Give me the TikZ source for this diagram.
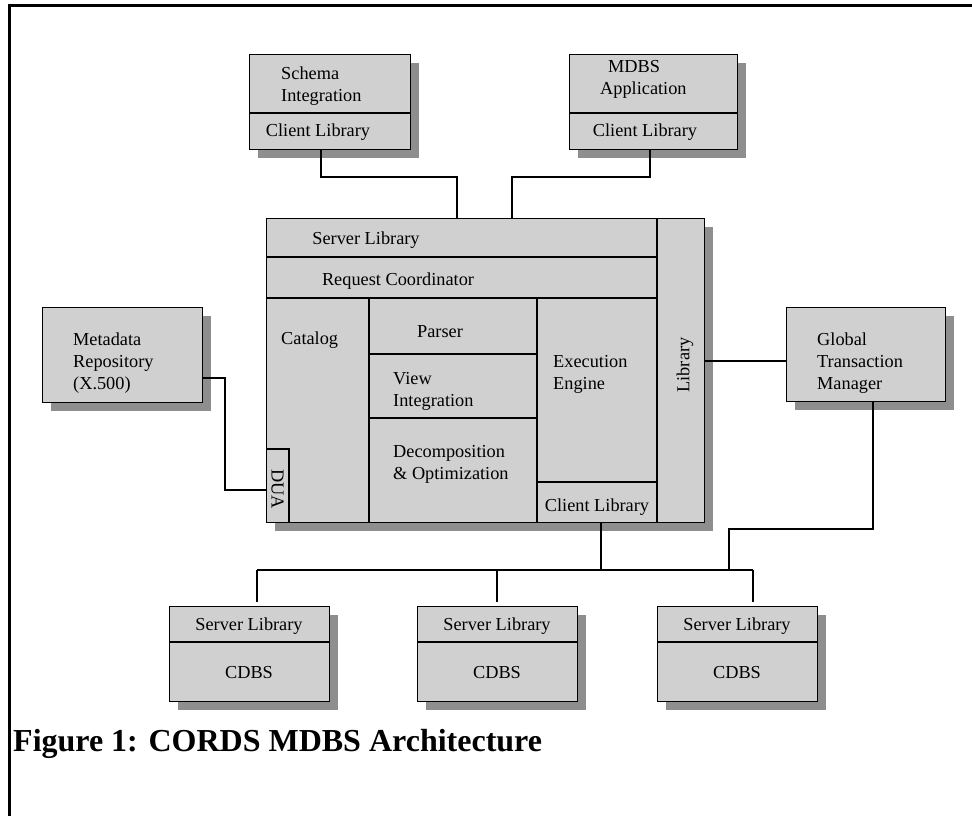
\documentclass[tikz,border=0pt]{standalone}
\usepackage{fontspec}
\setmainfont{Liberation Serif}
\usetikzlibrary{shadows}
\definecolor{boxgray}{HTML}{D0D0D0}
\definecolor{shadegray}{HTML}{8E8E8E}
\begin{document}
\begin{tikzpicture}[x=1pt,y=-1pt,
  box/.style={draw=black, line width=1.3pt, fill=boxgray, inner sep=0pt, anchor=north west,
    drop shadow={shadow xshift=8pt, shadow yshift=-8pt, fill=shadegray, opacity=1}},
  lbl/.style={font=\fontsize{18.3}{22}\selectfont, inner sep=0pt, align=left},
  div/.style={line width=1.3pt},
  wire/.style={line width=1.1pt},
  figcap/.style={font=\bfseries\fontsize{32}{38}\selectfont, inner sep=0pt, anchor=base west}]
\useasboundingbox (0,0) rectangle (972,816);
\draw[line width=3pt] (9,816) -- (9,6) -- (972,6);

% top boxes
\node[box, minimum width=161pt, minimum height=95pt] (schema) at (249,54) {};
\draw[div] (249,113) -- (410,113);
\node[lbl, anchor=west] (schematxt) at (281,86.5) {Schema\\Integration};
\node[lbl] (schemacl) at (318,132) {Client Library};

\node[box, minimum width=168pt, minimum height=95pt] (mdbs) at (569,54) {};
\draw[div] (569,113) -- (737,113);
\node[lbl, anchor=west] (mdbstxt) at (600,79) {\hspace*{8pt}MDBS\\Application};
\node[lbl] (mdbscl) at (645,132) {Client Library};

% central box
\node[box, minimum width=438pt, minimum height=304pt] (core) at (266,218) {};
\draw[div] (657,218) -- (657,522);
\draw[div] (266,257) -- (657,257);
\draw[div] (266,298) -- (657,298);
\draw[div] (369,298) -- (369,522);
\draw[div] (537,298) -- (537,522);
\draw[div] (369,354) -- (537,354);
\draw[div] (369,418) -- (537,418);
\draw[div] (537,482) -- (657,482);
\draw[div] (266,449) -- (289,449) -- (289,522);
\node[lbl] (srvlib) at (366,240) {Server Library};
\node[lbl] (reqc) at (398,281) {Request Coordinator};
\node[lbl, anchor=west] (catalog) at (281,340) {Catalog};
\node[lbl] (parser) at (440,332) {Parser};
\node[lbl, anchor=west] (viewi) at (393,391) {View\\Integration};
\node[lbl, anchor=west] (decomp) at (393,464) {Decomposition\\\&~Optimization};
\node[lbl, anchor=west] (exec) at (553,374) {Execution\\Engine};
\node[lbl] (corecl) at (597,507) {Client Library};
\node[lbl, rotate=90] (lib) at (685,365) {Library};
\node[lbl, rotate=-90] (dua) at (277.5,489) {DUA};

% side boxes
\node[box, minimum width=160pt, minimum height=95pt] (meta) at (42,307) {};
\node[lbl, anchor=west] (metatxt) at (73,363) {Metadata\\Repository\\(X.500)};
\node[box, minimum width=159pt, minimum height=94pt] (gtm) at (786,307) {};
\node[lbl, anchor=west] (gtmtxt) at (817,363) {Global\\Transaction\\Manager};

% bottom boxes
\foreach \n/\x in {cdbsa/169, cdbsb/417, cdbsc/657}{
  \node[box, minimum width=160pt, minimum height=95pt] (\n) at (\x,606) {};
  \draw[div] (\x,642) -- (\x+160,642);
  \node[lbl] (\n sl) at (\x+80,626) {Server Library};
  \node[lbl] (\n db) at (\x+80,673) {CDBS};
}

% connectors
\coordinate (ja) at (321,177);
\coordinate (jb) at (457,177);
\coordinate (jc) at (512,177);
\coordinate (jd) at (650,177);
\draw[wire] (ja |- schema.south) -- (ja) -- (jb) -- (jb |- core.north);
\draw[wire] (jc |- core.north) -- (jc) -- (jd) -- (jd |- mdbs.south);

\coordinate (ma) at (225,378);
\coordinate (mb) at (225,490);
\draw[wire] (ma -| meta.east) -- (ma) -- (mb) -- (mb -| core.west);

\coordinate (ga) at (704,361);
\draw[wire] (ga -| core.east) -- (ga -| gtm.west);

\coordinate (gb) at (873,529);
\coordinate (gc) at (729,529);
\coordinate (gd) at (729,570);
\draw[wire] (gb |- gtm.south) -- (gb) -- (gc) -- (gd);

\coordinate (ba) at (257,570);
\coordinate (bb) at (497,570);
\coordinate (bc) at (753,570);
\coordinate (bd) at (601,570);
\draw[wire] (ba) -- (bc);
\draw[wire] (bd |- core.south) -- (bd);
\draw[wire, shorten >=4pt] (ba) -- (ba |- cdbsa.north);
\draw[wire, shorten >=4pt] (bb) -- (bb |- cdbsb.north);
\draw[wire, shorten >=4pt] (bc) -- (bc |- cdbsc.north);

% caption
\node[figcap] (caption) at (13,751) {Figure 1: CORDS MDBS Architecture};
\end{tikzpicture}
\end{document}
